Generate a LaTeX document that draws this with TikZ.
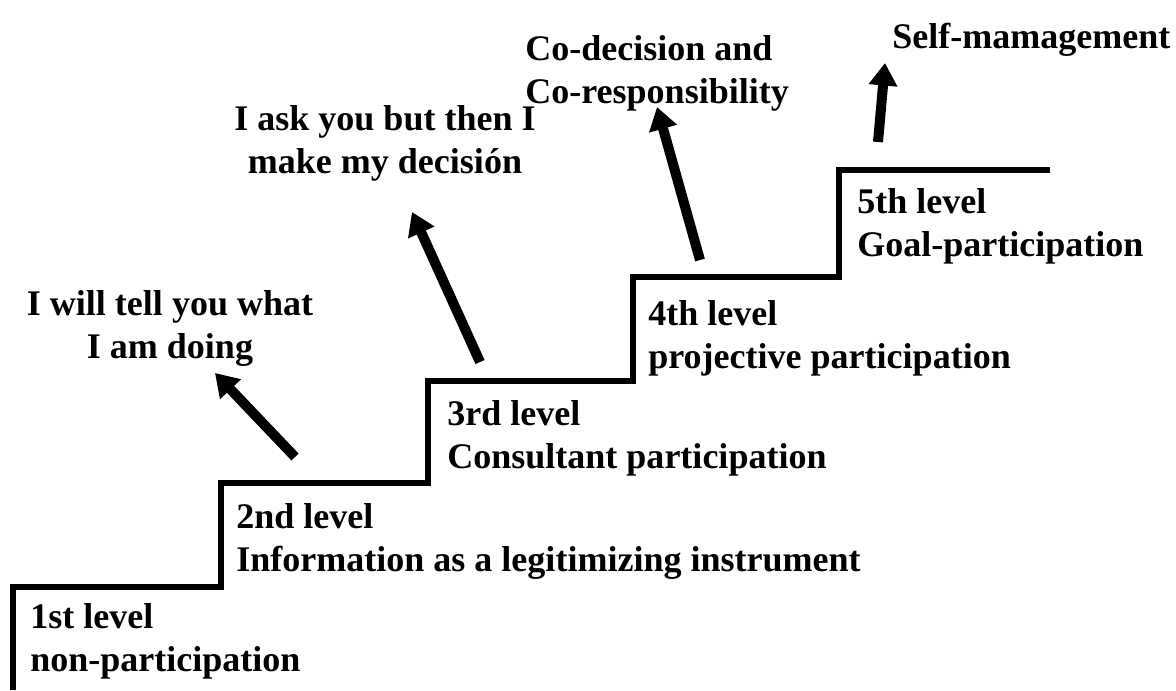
\documentclass[tikz,border=0pt]{standalone}
\usepackage{fontspec}
\setmainfont{Liberation Serif}
\usetikzlibrary{arrows.meta}

\tikzset{
  stair/.style={line width=0.12cm, line join=miter},
  lvl/.style={anchor=north west, inner sep=0pt, align=left,
    font=\bfseries\fontsize{20.5}{24.5}\selectfont},
  say/.style={anchor=north, inner sep=0pt, align=center,
    font=\bfseries\fontsize{20.5}{24.5}\selectfont},
  uparrow/.style={line width=0.2cm,
    -{Triangle[length=0.45cm,width=0.55cm]}}
}

\begin{document}
\begin{tikzpicture}[x=0.02cm,y=-0.02cm]
  \useasboundingbox (0,0) rectangle (1176,690);
  % the staircase
  \draw [stair] (13,690) -- (13,587) -- (221,587) -- (221,483)
        -- (428,483) -- (428,381) -- (633,381) -- (633,277)
        -- (839,277) -- (839,170) -- (1050,170);
  % level names on the steps
  \node [lvl] (lvl1) at (30,603) {1st level\\non-participation};
  \node [lvl] (lvl2) at (236,503) {2nd level\\Information as a legitimizing instrument};
  \node [lvl] (lvl3) at (447,400) {3rd level\\Consultant participation};
  \node [lvl] (lvl4) at (648,300) {4th level\\projective participation};
  \node [lvl] (lvl5) at (857,188) {5th level\\Goal-participation};
  % what is said at each level
  \node [say] (tell) at (170,290) {I will tell you what\\I am doing};
  \node [say] (ask) at (385,105) {I ask you but then I\\make my decisi\'on};
  \node [lvl] (codec) at (525,35) {Co-decision and\\Co-responsibility};
  \node [lvl] (self) at (892,23) {Self-mamagement};
  % arrows
  \coordinate (t1) at (295,457); \coordinate (h1) at (215,373);
  \coordinate (t2) at (480,362); \coordinate (h2) at (412,212);
  \coordinate (t3) at (700,260); \coordinate (h3) at (657,107);
  \coordinate (t4) at (878,142); \coordinate (h4) at (885,63);
  \draw [uparrow] (t1) -- (h1);
  \draw [uparrow] (t2) -- (h2);
  \draw [uparrow] (t3) -- (h3);
  \draw [uparrow] (t4) -- (h4);
\end{tikzpicture}
\end{document}
